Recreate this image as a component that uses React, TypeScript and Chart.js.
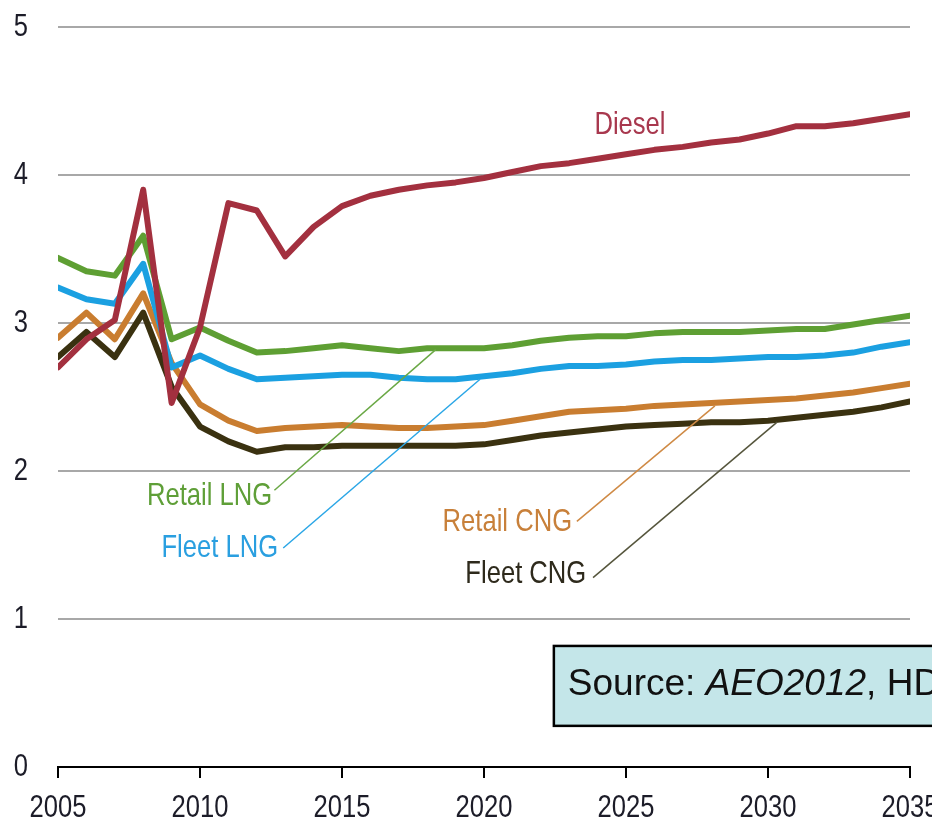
import React, { useEffect, useRef } from "react";
import { Chart, registerables } from "chart.js";

Chart.register(...registerables);

// ---- data ----
const years = [
  2005, 2006, 2007, 2008, 2009, 2010, 2011, 2012, 2013, 2014, 2015, 2016, 2017, 2018, 2019, 2020,
  2021, 2022, 2023, 2024, 2025, 2026, 2027, 2028, 2029, 2030, 2031, 2032, 2033, 2034, 2035,
];
const diesel = [
  2.70, 2.89, 3.02, 3.90, 2.46, 2.97, 3.81, 3.76, 3.45, 3.65, 3.79, 3.86, 3.90, 3.93, 3.95, 3.98,
  4.02, 4.06, 4.08, 4.11, 4.14, 4.17, 4.19, 4.22, 4.24, 4.28, 4.33, 4.33, 4.35, 4.38, 4.41,
];
const retailLNG = [
  3.44, 3.35, 3.32, 3.59, 2.89, 2.97, 2.88, 2.80, 2.81, 2.83, 2.85, 2.83, 2.81, 2.83, 2.83, 2.83,
  2.85, 2.88, 2.90, 2.91, 2.91, 2.93, 2.94, 2.94, 2.94, 2.95, 2.96, 2.96, 2.99, 3.02, 3.05,
];
const fleetLNG = [
  3.24, 3.16, 3.13, 3.40, 2.70, 2.78, 2.69, 2.62, 2.63, 2.64, 2.65, 2.65, 2.63, 2.62, 2.62, 2.64,
  2.66, 2.69, 2.71, 2.71, 2.72, 2.74, 2.75, 2.75, 2.76, 2.77, 2.77, 2.78, 2.80, 2.84, 2.87,
];
const retailCNG = [
  2.90, 3.07, 2.89, 3.20, 2.73, 2.45, 2.34, 2.27, 2.29, 2.30, 2.31, 2.30, 2.29, 2.29, 2.30, 2.31,
  2.34, 2.37, 2.40, 2.41, 2.42, 2.44, 2.45, 2.46, 2.47, 2.48, 2.49, 2.51, 2.53, 2.56, 2.59,
];
const fleetCNG = [
  2.77, 2.94, 2.77, 3.07, 2.57, 2.30, 2.20, 2.13, 2.16, 2.16, 2.17, 2.17, 2.17, 2.17, 2.17, 2.18,
  2.21, 2.24, 2.26, 2.28, 2.30, 2.31, 2.32, 2.33, 2.33, 2.34, 2.36, 2.38, 2.40, 2.43, 2.47,
];
const xTicks = [2005, 2010, 2015, 2020, 2025, 2030, 2035];
const yTicks = [0, 1, 2, 3, 4, 5];

const seriesNames = ["Diesel", "Retail LNG", "Fleet LNG", "Retail CNG", "Fleet CNG"];
const seriesValues = [diesel, retailLNG, fleetLNG, retailCNG, fleetCNG];
const seriesColors = ["#a3303f", "#5e9f33", "#1ba0e1", "#c97d30", "#3a3110"];
const labelColors = ["#a8384e", "#5f9f38", "#2a9fe0", "#c8803a", "#2e2a1c"];
const leaderColors = ["#a3303f", "#6aa845", "#2aa6e6", "#cf8a45", "#55553c"];

// label anchor (data coords), alignment, and optional leader line (data coords)
const labelX = [2025.14, 2012.54, 2012.75, 2023.1, 2023.6];
const labelY = [4.34, 1.83, 1.48, 1.655, 1.30];
const labelAlign = ["center", "right", "right", "right", "right"];
const leaderFrom = [null, [2012.62, 1.87], [2012.93, 1.48], [2023.27, 1.66], [2023.84, 1.28]];
const leaderTo = [null, [2018.3, 2.82], [2019.86, 2.62], [2028.13, 2.44], [2030.32, 2.33]];

const sourceParts = [
  { text: "Source: ", italic: false },
  { text: "AEO2012", italic: true },
  { text: ", HD", italic: false },
];
const sourceBoxX = 2022.46;
const sourceBoxTop = 0.818;
const sourceBoxBottom = 0.278;

const FONT = "'Liberation Sans', Arial, sans-serif";
const TEXT_SIZE = 32;
const SQUEEZE = 0.8;
const TICK_COLOR = "#1c1c28";

function drawNarrow(ctx: any, text: string, x: number, y: number, align: string, color: string) {
  ctx.save();
  ctx.font = `${TEXT_SIZE}px ${FONT}`;
  ctx.fillStyle = color;
  ctx.textBaseline = "middle";
  ctx.textAlign = "left";
  const w = ctx.measureText(text).width * SQUEEZE;
  const left = align === "right" ? x - w : align === "center" ? x - w / 2 : x;
  ctx.translate(left, y);
  ctx.scale(SQUEEZE, 1);
  ctx.fillText(text, 0, 0);
  ctx.restore();
}

const annotationPlugin = {
  id: "annotations",
  afterDatasetsDraw(chart: any) {
    const { ctx, scales, chartArea } = chart;
    const xs = scales.x;
    const ys = scales.y;
    ctx.save();
    // axis tick labels
    for (const v of yTicks) {
      drawNarrow(ctx, String(v), chartArea.left - 30, ys.getPixelForValue(v), "right", TICK_COLOR);
    }
    for (const v of xTicks) {
      drawNarrow(ctx, String(v), xs.getPixelForValue(v), chartArea.bottom + 41, "center", TICK_COLOR);
    }
    // leader lines
    for (let i = 0; i < seriesNames.length; i++) {
      const f = leaderFrom[i];
      const t = leaderTo[i];
      if (f && t) {
        ctx.beginPath();
        ctx.strokeStyle = leaderColors[i];
        ctx.lineWidth = 1.5;
        ctx.moveTo(xs.getPixelForValue(f[0]), ys.getPixelForValue(f[1]));
        ctx.lineTo(xs.getPixelForValue(t[0]), ys.getPixelForValue(t[1]));
        ctx.stroke();
      }
    }
    // series labels
    for (let i = 0; i < seriesNames.length; i++) {
      drawNarrow(
        ctx,
        seriesNames[i],
        xs.getPixelForValue(labelX[i]),
        ys.getPixelForValue(labelY[i]),
        labelAlign[i],
        labelColors[i]
      );
    }
    // source box
    const bx = xs.getPixelForValue(sourceBoxX);
    const by = ys.getPixelForValue(sourceBoxTop);
    const bb = ys.getPixelForValue(sourceBoxBottom);
    const bw = chart.width - bx + 20;
    ctx.fillStyle = "#c4e6e9";
    ctx.fillRect(bx, by, bw, bb - by);
    ctx.strokeStyle = "#000";
    ctx.lineWidth = 2.5;
    ctx.strokeRect(bx, by, bw, bb - by);
    ctx.fillStyle = "#111";
    ctx.textAlign = "left";
    ctx.textBaseline = "alphabetic";
    let tx = bx + 14;
    const ty = by + 49;
    for (const p of sourceParts) {
      ctx.font = `${p.italic ? "italic " : ""}37px ${FONT}`;
      ctx.fillText(p.text, tx, ty);
      tx += ctx.measureText(p.text).width;
    }
    ctx.restore();
  },
};

export default function App() {
  const canvasRef = useRef<HTMLCanvasElement | null>(null);

  useEffect(() => {
    if (!canvasRef.current) return;
    const datasets = seriesNames.map((name, i) => ({
      label: name,
      data: years.map((yr, j) => ({ x: yr, y: seriesValues[i][j] })),
      borderColor: seriesColors[i],
      backgroundColor: seriesColors[i],
      borderWidth: 6,
      pointRadius: 0,
      tension: 0,
      borderJoinStyle: "round" as const,
      borderCapStyle: "round" as const,
      fill: false,
    }));
    const chart = new Chart(canvasRef.current, {
      type: "line",
      data: { datasets },
      plugins: [annotationPlugin],
      options: {
        animation: false,
        responsive: true,
        maintainAspectRatio: false,
        layout: { padding: { top: 27, right: 50, left: 0, bottom: 0 } },
        plugins: { legend: { display: false }, tooltip: { enabled: false } },
        scales: {
          x: {
            type: "linear",
            min: 2005,
            max: 2035,
            afterBuildTicks: (s: any) => {
              s.ticks = xTicks.map((v) => ({ value: v }));
            },
            afterFit: (s: any) => {
              s.height = 53;
            },
            grid: {
              drawOnChartArea: false,
              drawTicks: true,
              tickLength: 11,
              tickColor: "#000",
              lineWidth: 2,
            },
            border: { display: true, color: "#000", width: 2 },
            ticks: { display: false },
          },
          y: {
            type: "linear",
            min: 0,
            max: 5,
            afterBuildTicks: (s: any) => {
              s.ticks = yTicks.map((v) => ({ value: v }));
            },
            afterFit: (s: any) => {
              s.width = 58;
            },
            grid: {
              color: (c: any) => (c.tick && c.tick.value === 0 ? "rgba(0,0,0,0)" : "#a8a8a8"),
              lineWidth: 2,
              drawTicks: false,
            },
            border: { display: false },
            ticks: { display: false },
          },
        },
      },
    });
    return () => chart.destroy();
  }, []);

  return (
    <div
      style={{
        position: "fixed",
        left: 0,
        top: 0,
        width: 932,
        height: 820,
        overflow: "hidden",
        background: "#fff",
      }}
    >
      <div style={{ position: "relative", width: 960, height: 820 }}>
        <canvas ref={canvasRef} />
      </div>
    </div>
  );
}
